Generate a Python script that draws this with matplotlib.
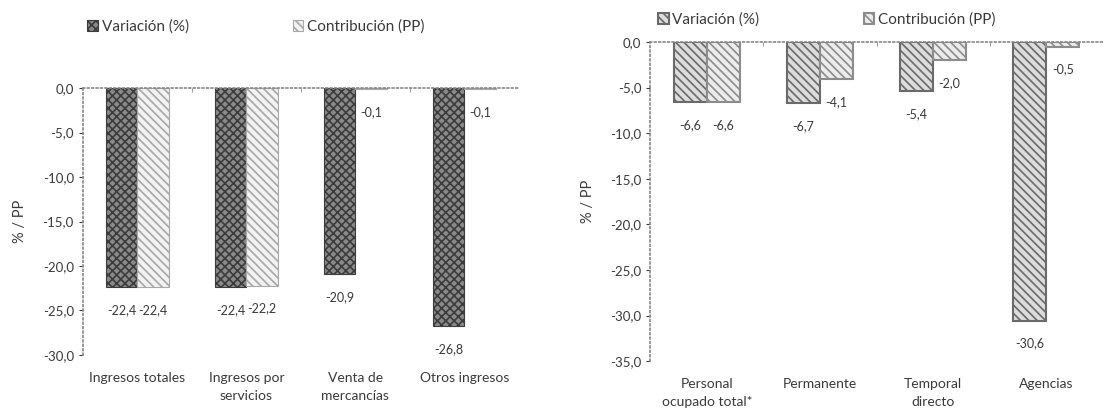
import matplotlib.pyplot as plt
import numpy as np
from matplotlib.patches import Patch
from matplotlib.ticker import FuncFormatter

# left panel: ingresos
cats_left = ["Ingresos totales", "Ingresos por\nservicios", "Venta de\nmercancías", "Otros ingresos"]
var_left = [-22.4, -22.4, -20.9, -26.8]
contrib_left = [-22.4, -22.2, -0.1, -0.1]

# right panel: personal ocupado
cats_right = ["Personal\nocupado total*", "Permanente", "Temporal\ndirecto", "Agencias"]
var_right = [-6.6, -6.7, -5.4, -30.6]
contrib_right = [-6.6, -4.1, -2.0, -0.5]

txt = "#3a3a3a"
plt.rcParams['font.family'] = ['Lato', 'DejaVu Sans']
plt.rcParams['hatch.linewidth'] = 1.2


def comma(v, pos=None):
    return f"{v:.1f}".replace(".", ",")


def panel(ax, cats, var, contrib, ymin, styles):
    x = np.arange(len(cats))
    w = 0.29
    b1 = ax.bar(x - w / 2, var, w, **styles[0])
    b2 = ax.bar(x + w / 2, contrib, w, **styles[1])
    for bars, vals in ((b1, var), (b2, contrib)):
        ax.bar_label(bars, labels=[comma(v) for v in vals], padding=12,
                     fontsize=9, color=txt)
    ax.set_xlim(-0.5, len(cats) - 0.5)
    ax.set_ylim(ymin, 0)
    ax.set_yticks(np.arange(ymin, 0.1, 5))
    ax.yaxis.set_major_formatter(FuncFormatter(comma))
    ax.set_xticks(x)
    ax.set_xticklabels(cats, fontsize=10, color=txt, linespacing=1.6)
    ax.tick_params(axis='x', length=0, pad=12)
    ax.tick_params(axis='y', labelsize=9.5, colors=txt, length=3)
    ax.set_xticks(np.arange(0.5, len(cats) - 0.5, 1), minor=True)
    ax.tick_params(axis='x', which='minor', top=True, bottom=False,
                   direction='in', length=3, color='#888')
    for s in ('right', 'bottom'):
        ax.spines[s].set_visible(False)
    for s in ('left', 'top'):
        ax.spines[s].set_linestyle(':')
        ax.spines[s].set_color('#888')
        ax.spines[s].set_linewidth(1.2)
    ax.set_ylabel("% / PP", fontsize=10.5, color=txt, labelpad=11)
    leg = [Patch(**styles[0], label="Variación (%)"),
           Patch(**styles[1], label="Contribución (PP)")]
    return leg


fig = plt.figure(figsize=(11.04, 4.08), dpi=100)
ax1 = fig.add_axes([0.075, 0.13, 0.395, 0.654])
ax2 = fig.add_axes([0.589, 0.115, 0.41, 0.782])

left_styles = [dict(facecolor='#8a8a8a', edgecolor='#3c3c3c', hatch='xxxx', linewidth=0.8),
               dict(facecolor='#f2f2f2', edgecolor='#a8a8a8', hatch='\\\\\\\\', linewidth=0.8)]
right_styles = [dict(facecolor='#dcdcdc', edgecolor='#6a6a6a', hatch='\\\\\\\\', linewidth=1.5),
                dict(facecolor='#ececec', edgecolor='#8c8c8c', hatch='\\\\\\\\', linewidth=1.5)]

h1 = panel(ax1, cats_left, var_left, contrib_left, -30, left_styles)
h2 = panel(ax2, cats_right, var_right, contrib_right, -35, right_styles)

leg_kw = dict(ncol=2, frameon=False, fontsize=11, labelcolor=txt, handlelength=0.7,
              handleheight=0.7, handletextpad=0.25, columnspacing=6.8,
              loc='center left', borderaxespad=0, borderpad=0)
fig.legend(handles=h1, bbox_to_anchor=(0.079, 0.935), **leg_kw)
fig.legend(handles=h2, bbox_to_anchor=(0.596, 0.952), **leg_kw)

fig.savefig("out.png", dpi=100)
